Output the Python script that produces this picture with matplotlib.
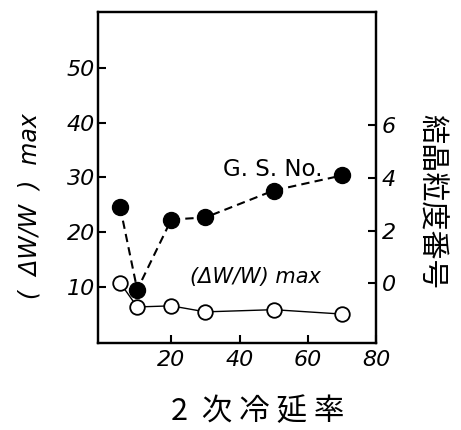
import matplotlib.pyplot as plt

plt.rcParams['font.family'] = ['DejaVu Sans', 'Noto Sans CJK JP']

# secondary cold rolling reduction (%)
reduction = [5, 10, 20, 30, 50, 70]
# (dW/W)max, left axis
dw_max = [10.7, 6.3, 6.5, 5.4, 5.8, 5.0]
# grain size number, right axis
gs_no = [2.88, -0.24, 2.42, 2.5, 3.52, 4.09]

x_ticks = [20, 40, 60, 80]
left_ticks = [10, 20, 30, 40, 50]
right_ticks = [0, 2, 4, 6]

fig = plt.figure(figsize=(4.61, 4.30), dpi=100)
ax = fig.add_axes([0.2126, 0.2023, 0.603, 0.770])
ax2 = ax.twinx()

ax.plot(reduction, dw_max, color='black', lw=1.0, marker='o', ms=10.5,
        mfc='white', mec='black', mew=1.3, zorder=3)
ax2.plot(reduction, gs_no, color='black', lw=1.5, ls=(0, (4, 2.5)), marker='o',
         ms=11.5, mfc='black', mec='black', zorder=3)

ax.set_xlim(-1.5, 80)
ax.set_ylim(-0.3, 60.3)
ax2.set_ylim(-2.26, 10.29)

ax.set_xticks(x_ticks)
ax.set_yticks(left_ticks)
ax2.set_yticks(right_ticks)

for a in (ax, ax2):
    for s in a.spines.values():
        s.set_linewidth(1.6)
ax.tick_params(direction='in', length=6, width=1.5, labelsize=16, pad=2)
ax.tick_params(axis='x', pad=5)
ax2.tick_params(direction='in', length=6, width=1.5, labelsize=16, pad=4)
for lab in ax.get_xticklabels() + ax.get_yticklabels() + ax2.get_yticklabels():
    lab.set_style('italic')

ax.set_ylabel('(  ΔW/W  )  max', fontsize=17, style='italic',
              va='center', ha='center', rotation_mode='default')
ax.yaxis.set_label_coords(-0.245, 0.414)
ax2.set_ylabel('結晶粒度番号', fontsize=21, rotation=270,
               family=['Noto Sans CJK JP'],
               va='center', ha='center', rotation_mode='default')
ax2.yaxis.set_label_coords(1.198, 0.429)
ax.set_xlabel('2  次 冷 延 率', fontsize=22, family=['Noto Sans CJK JP'],
              va='center', ha='center')
ax.xaxis.set_label_coords(0.576, -0.208)

ax.text(35.2, 31.5, 'G. S. No.', fontsize=16.5, va='center', ha='left')
ax.text(25.5, 11.8, '(ΔW/W) max', fontsize=15, va='center', ha='left',
        style='italic')

fig.savefig('out.png', dpi=100)
